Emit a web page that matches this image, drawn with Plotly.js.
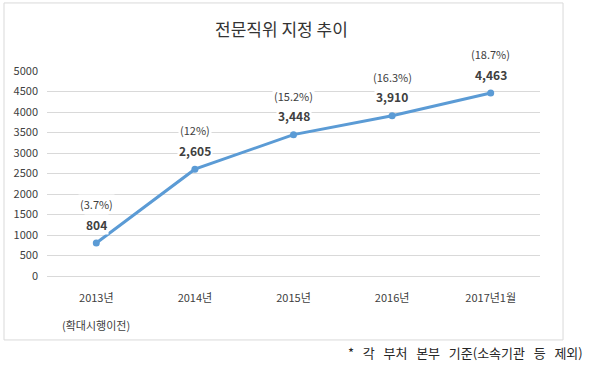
<!DOCTYPE html>
<html>
<head>
<meta charset="utf-8">
<script src="https://cdn.plot.ly/plotly-3.0.1.min.js"></script>
<style>html,body{margin:0;padding:0;background:#fff;}#chart{width:590px;height:369px;}</style>
</head>
<body>
<div id="chart"></div>
<script>
const categories = ['2013년', '2014년', '2015년', '2016년', '2017년1월'];
const values = [804, 2605, 3448, 3910, 4463];
const valueLabels = ['804', '2,605', '3,448', '3,910', '4,463'];
const pctLabels = ['(3.7%)', '(12%)', '(15.2%)', '(16.3%)', '(18.7%)'];
const subLabel = '(확대시행이전)';
const titleText = '전문직위 지정 추이';
const footnoteWords = ['*', '각', '부처', '본부', '기준(소속기관', '등', '제외)'];
const yTicks = [0, 500, 1000, 1500, 2000, 2500, 3000, 3500, 4000, 4500, 5000];

const FONT = '"Noto Sans CJK KR", "Noto Sans", sans-serif';

const trace = {
  x: categories,
  y: values,
  type: 'scatter',
  mode: 'lines+markers',
  line: {color: '#5B9BD5', width: 3},
  marker: {color: '#5B9BD5', size: 7},
  hoverinfo: 'none',
  showlegend: false
};

const annotations = [];
categories.forEach((c, i) => {
  annotations.push({
    x: c, y: values[i], xref: 'x', yref: 'y',
    text: '<b>' + valueLabels[i] + '</b>', showarrow: false,
    yshift: 19, yanchor: 'middle', bgcolor: '#ffffff',
    font: {family: FONT, size: 12, color: '#404040'}
  });
  annotations.push({
    x: c, y: values[i], xref: 'x', yref: 'y',
    text: pctLabels[i], showarrow: false,
    yshift: 39, yanchor: 'middle', bgcolor: '#ffffff',
    font: {family: FONT, size: 11, color: '#404040'}
  });
});
annotations.push({
  x: categories[0], y: -0.239, xref: 'x', yref: 'paper',
  text: subLabel, showarrow: false, yanchor: 'middle',
  font: {family: FONT, size: 11, color: '#404040'}
});
annotations.push({
  x: 1.0913, y: -0.371, xref: 'paper', yref: 'paper',
  text: footnoteWords.join('&nbsp;&nbsp;&nbsp;'), showarrow: false, xanchor: 'right', yanchor: 'middle',
  font: {family: FONT, size: 13, color: '#262626'}
});

const layout = {
  width: 590, height: 369,
  margin: {l: 47, r: 50, t: 71, b: 93},
  paper_bgcolor: '#ffffff', plot_bgcolor: '#ffffff',
  title: {
    text: titleText, x: 0.477, xref: 'container', xanchor: 'center',
    y: 1 - 30/369, yref: 'container', yanchor: 'middle',
    font: {family: FONT, size: 17, color: '#333333'}
  },
  xaxis: {
    type: 'category', range: [-0.5, 4.5], showgrid: false, zeroline: false, showline: false,
    ticks: '', ticklabelstandoff: 14,
    tickfont: {family: FONT, size: 11, color: '#404040'}
  },
  yaxis: {
    range: [0, 5000], tickvals: yTicks, ticktext: yTicks.map(String),
    showgrid: true, gridcolor: '#D9D9D9', gridwidth: 1,
    zeroline: true, zerolinecolor: '#D9D9D9', zerolinewidth: 1,
    showline: false, ticks: '', ticklabelstandoff: 8,
    tickfont: {family: FONT, size: 11, color: '#404040'}
  },
  shapes: [{
    type: 'rect', xref: 'paper', yref: 'paper',
    x0: -0.0872, x1: 1.0467, y0: -0.312, y1: 1.332,
    line: {color: '#D9D9D9', width: 1}, fillcolor: 'rgba(0,0,0,0)', layer: 'below'
  }],
  annotations: annotations
};

Plotly.newPlot('chart', [trace], layout, {displayModeBar: false, staticPlot: true});
</script>
</body>
</html>
